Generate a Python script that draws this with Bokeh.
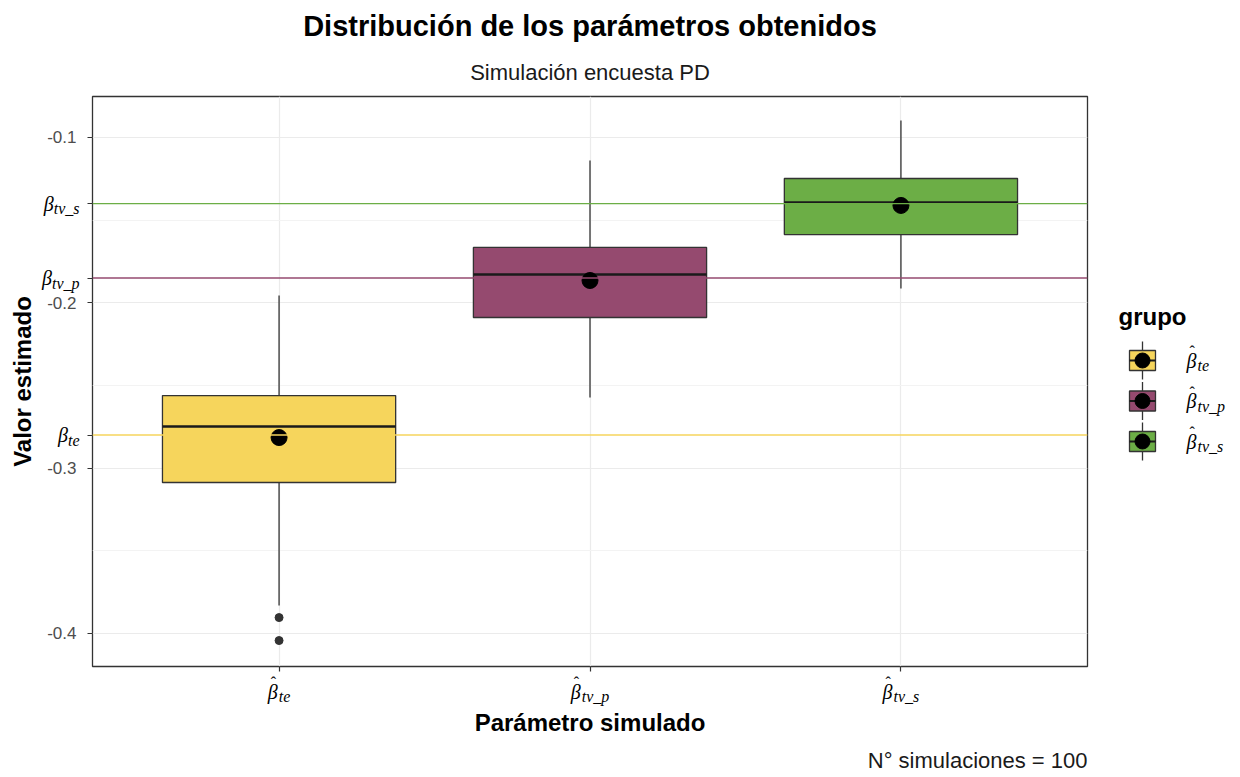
import math
from bokeh.plotting import figure
from bokeh.models import Range1d, FixedTicker, Span, Title
from bokeh.layouts import row, column
from bokeh.core.properties import value
from bokeh.embed import file_html
from bokeh.resources import INLINE

# ---------------- data ----------------
groups = ["te", "tv_p", "tv_s"]           # subscripts of the simulated parameters
colors = ["#F6D55C", "#954A6F", "#6CAE46"]
true_vals = [-0.28, -0.185, -0.14]         # reference (true) parameter values
q1 = [-0.3087, -0.2089, -0.1587]
median = [-0.2748, -0.1829, -0.1393]
q3 = [-0.2561, -0.1665, -0.1248]
whisk_lo = [-0.3831, -0.2573, -0.1913]
whisk_hi = [-0.1956, -0.1139, -0.0897]
means = [-0.2815, -0.1865, -0.1411]
outlier_grp = [0, 0]
outlier_val = [-0.3904, -0.4043]
y_ticks = [-0.4, -0.3, -0.2, -0.1]
y_minor = [-0.35, -0.25, -0.15]

SANS = "Liberation Sans"
SERIF = "Liberation Serif"
INK = "#333333"
CW = {"t": 0.278, "e": 0.444, "v": 0.444, "p": 0.5, "s": 0.389, "_": 0.5}

def sub_w(s, fs):
    return sum(CW.get(c, 0.5) for c in s) * fs

xs = list(range(len(groups)))
n = len(xs)
box_w = 0.75

# ---------------- geometry ----------------
SL = 80                     # left strip (y labels)
ML, MR = 12, 10             # main figure side borders
FW = 995                    # frame width
MT, FH, MB = 96, 570, 6     # main top border, frame height, bottom border
MW = ML + FW + MR
MH = MT + FH + MB
HB = 102                    # bottom strip (x labels, axis title, caption)
TOT_H = MH + HB
LW = 140                    # legend panel width

x_range = Range1d(-0.6, 2.6)
y_range = Range1d(-0.42, -0.0752)

# ---------------- main panel ----------------
p = figure(width=MW, height=MH, x_range=x_range, y_range=y_range,
           output_backend="svg", toolbar_location=None, title=None,
           min_border_left=ML, min_border_right=MR, min_border_top=MT, min_border_bottom=MB)
p.background_fill_color = "white"
p.border_fill_color = "white"
p.outline_line_color = INK
p.outline_line_width = 1.3

p.xaxis.ticker = FixedTicker(ticks=xs)
p.yaxis.ticker = FixedTicker(ticks=sorted(y_ticks + true_vals), minor_ticks=y_minor)
for ax in (p.xaxis[0], p.yaxis[0]):
    ax.axis_line_color = None
    ax.major_tick_line_color = INK
    ax.major_tick_line_width = 1.2
    ax.major_tick_out = 5
    ax.major_tick_in = 0
    ax.minor_tick_line_color = None
    ax.major_label_text_font_size = "1px"
    ax.major_label_text_color = None
    ax.major_label_standoff = 0

p.ygrid.ticker = FixedTicker(ticks=y_ticks, minor_ticks=y_minor)
p.xgrid.grid_line_color = "#EBEBEB"
p.ygrid.grid_line_color = "#EBEBEB"
p.ygrid.minor_grid_line_color = "#F3F3F3"
p.xgrid.grid_line_width = 1.2
p.ygrid.grid_line_width = 1.2

for v, c in zip(true_vals, colors):
    p.add_layout(Span(location=v, dimension="width", line_color=c, line_width=1.4))

p.segment(x0=xs, x1=xs, y0=q3, y1=whisk_hi, line_color=INK, line_width=1.3)
p.segment(x0=xs, x1=xs, y0=whisk_lo, y1=q1, line_color=INK, line_width=1.3)
p.vbar(x=xs, width=box_w, bottom=q1, top=q3, fill_color=colors, line_color=INK, line_width=1.3)
p.segment(x0=[x - box_w / 2 for x in xs], x1=[x + box_w / 2 for x in xs], y0=median, y1=median,
          line_color="#1a1a1a", line_width=2.6)
p.scatter(x=outlier_grp, y=outlier_val, size=8, color=INK)
p.scatter(x=xs, y=means, size=16, color="black")

p.add_layout(Title(text="Simulación encuesta PD", align="center", text_font=SANS,
                   text_font_size="22px", text_font_style="normal", text_color="#1a1a1a", standoff=24), "above")
p.add_layout(Title(text="Distribución de los parámetros obtenidos", align="center", text_font=SANS,
                   text_font_size="29px", text_font_style="bold", text_color="black", standoff=7), "above")

def strip(**kw):
    f = figure(output_backend="svg", toolbar_location=None, **kw)
    f.axis.visible = False
    f.grid.visible = False
    f.outline_line_color = None
    f.background_fill_color = "white"
    f.border_fill_color = "white"
    return f

# ---------------- left strip: y tick labels + y title ----------------
ls = strip(width=SL, height=TOT_H, x_range=Range1d(0, SL), y_range=y_range,
           min_border_left=0, min_border_right=0, min_border_top=MT, min_border_bottom=TOT_H - MT - FH)
ls.text(x=[SL - 4] * len(y_ticks), y=y_ticks, text=[f"{v:.1f}" for v in y_ticks],
        text_font=value(SANS), text_font_size="17px", text_color="#4D4D4D",
        text_align="right", text_baseline="middle")
ws = [sub_w(g, 16) for g in groups]
ls.text(x=[SL - 1] * n, y=true_vals, text=groups, y_offset=[5] * n,
        text_font=value(SERIF), text_font_style="italic", text_font_size="16px", text_color="black",
        text_align="right", text_baseline="middle")
ls.text(x=[SL - 1] * n, y=true_vals, text=["β"] * n, x_offset=[-w for w in ws],
        text_font=value(SERIF), text_font_style="italic", text_font_size="20px", text_color="black",
        text_align="right", text_baseline="middle")
ls.text(x=[22], y=[(y_range.start + y_range.end) / 2], text=["Valor estimado"], angle=math.pi / 2,
        text_font=value(SANS), text_font_size="24px", text_font_style="bold", text_color="black",
        text_align="center", text_baseline="middle")

# ---------------- bottom strip: x tick labels + x title + caption ----------------
bs = strip(width=MW, height=HB, x_range=x_range, y_range=Range1d(HB, 0),
           min_border_left=ML, min_border_right=MR, min_border_top=0, min_border_bottom=0)
wb = 11
tot = [wb + w for w in ws]
bs.text(x=xs, y=[19] * n, text=["β"] * n, x_offset=[-t / 2 for t in tot],
        text_font=value(SERIF), text_font_style="italic", text_font_size="20px", text_color="black",
        text_align="left", text_baseline="middle")
bs.text(x=xs, y=[10] * n, text=["ˆ"] * n, x_offset=[-t / 2 + 3 for t in tot],
        text_font=value(SERIF), text_font_size="16px", text_color="black",
        text_align="left", text_baseline="middle")
bs.text(x=xs, y=[24] * n, text=groups, x_offset=[-t / 2 + wb for t in tot],
        text_font=value(SERIF), text_font_style="italic", text_font_size="16px", text_color="black",
        text_align="left", text_baseline="middle")
bs.text(x=[(x_range.start + x_range.end) / 2], y=[50], text=["Parámetro simulado"],
        text_font=value(SANS), text_font_size="24px", text_font_style="bold", text_color="black",
        text_align="center", text_baseline="middle")
bs.text(x=[x_range.end], y=[88], text=["N° simulaciones = 100"],
        text_font=value(SANS), text_font_size="22px", text_color="#1a1a1a",
        text_align="right", text_baseline="middle")

# ---------------- legend panel (frame aligned with the main frame; y in page pixels) ----------------
leg = strip(width=LW, height=TOT_H, x_range=Range1d(0, LW), y_range=Range1d(MT + FH, MT),
            min_border_left=0, min_border_right=0, min_border_top=MT, min_border_bottom=TOT_H - MT - FH)
leg.text(x=[21], y=[316], text=["grupo"], text_font=value(SANS), text_font_size="24px",
         text_font_style="bold", text_baseline="middle", text_color="black")
key_x = 45
ky = [360 + 40.5 * i for i in xs]
leg.segment(x0=[key_x] * n, x1=[key_x] * n, y0=[y - 19 for y in ky], y1=[y + 19 for y in ky],
            line_color=INK, line_width=1.3)
leg.rect(x=[key_x] * n, y=ky, width=26, height=20, fill_color=colors, line_color=INK, line_width=1.3)
leg.segment(x0=[key_x - 13] * n, x1=[key_x + 13] * n, y0=ky, y1=ky, line_color="#1a1a1a", line_width=2)
leg.scatter(x=[key_x] * n, y=ky, size=15, color="black")
leg.text(x=[89] * n, y=ky, text=["β"] * n, text_font=value(SERIF), text_font_style="italic",
         text_font_size="20px", text_baseline="middle", text_color="black")
leg.text(x=[92] * n, y=[y - 9 for y in ky], text=["ˆ"] * n, text_font=value(SERIF),
         text_font_size="16px", text_baseline="middle", text_color="black")
leg.text(x=[100] * n, y=[y + 5 for y in ky], text=groups, text_font=value(SERIF), text_font_style="italic",
         text_font_size="16px", text_baseline="middle", text_color="black")

layout = row(ls, column(p, bs), leg)
open("out.html", "w").write(file_html(layout, INLINE))
